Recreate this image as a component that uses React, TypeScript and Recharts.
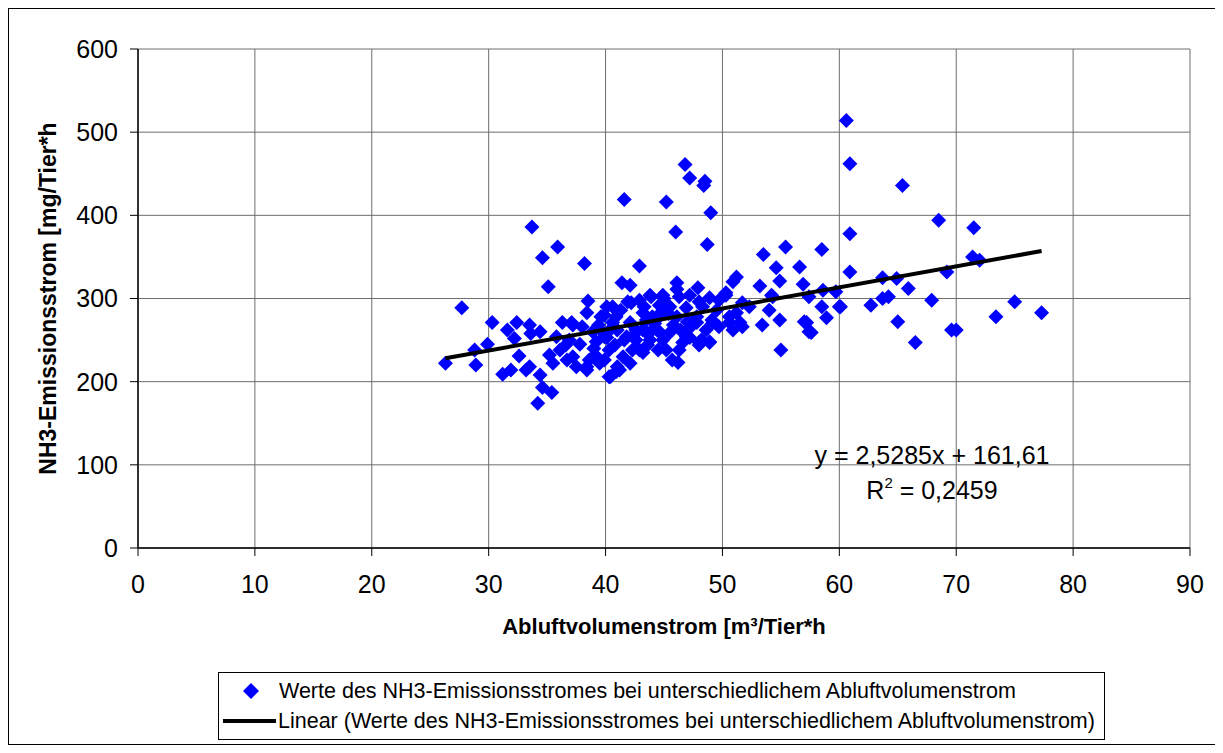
import {
  ScatterChart,
  Scatter,
  XAxis,
  YAxis,
  CartesianGrid,
} from "recharts";

// Abluftvolumenstrom [m³/Tier*h] per measurement
const flow = [
  26.3, 27.7, 28.8, 28.9, 29.9, 30.3, 31.2, 31.9, 32.4, 32.6, 31.6, 33.5, 33.2, 33.5, 33.7, 34.2,
  34.4, 34.4, 34.6, 34.6, 35.1, 35.4, 35.9, 36.3, 37.2, 36.7, 38.2, 38.4, 38.5, 39.7, 39.9, 40.6,
  40.9, 40.3, 41.4, 41.6, 42.1, 42.9, 45.2, 46.0, 46.8, 47.2, 48.5, 48.4, 49.0, 48.7, 46.1, 46.1,
  46.2, 50.9, 51.7, 51.2, 52.3, 53.2, 53.4, 53.5, 54.3, 54.6, 54.9, 54.9, 55.0, 55.4, 56.6, 56.9,
  57.2, 57.6, 58.5, 58.9, 58.6, 60.0, 60.6, 60.9, 65.4, 68.5, 71.5, 60.9, 71.4, 72.0, 60.9, 69.2,
  63.7, 64.9, 65.9, 59.7, 63.7, 64.2, 67.9, 62.7, 60.1, 65.0, 66.5, 69.6, 70.0, 73.4, 75.0, 77.3,
  38.4, 40.9, 42.2, 42.9, 43.8, 43.2, 44.0, 37.1, 38.0, 38.9, 35.8, 40.1, 41.0, 41.8, 42.6, 43.5,
  44.4, 36.1, 37.2, 37.5, 38.6, 38.4, 39.5, 40.3, 41.5, 41.2, 42.3, 43.2, 42.1, 35.5, 47.9, 43.9,
  44.9, 46.3, 47.2, 48.9, 50.3, 49.7, 43.3, 44.6, 45.5, 46.9, 48.3, 49.5, 51.2, 51.7, 43.5, 44.6,
  46.1, 47.8, 49.1, 50.6, 51.5, 44.0, 45.5, 46.9, 48.6, 49.7, 43.8, 44.9, 46.6, 48.0, 48.9, 45.2,
  45.7, 42.9, 50.9, 50.3, 54.2, 54.0, 57.4, 58.5, 50.6, 57.0, 57.4, 40.1, 41.9, 39.6, 40.6, 42.1,
  43.2, 44.6, 47.2, 47.8, 49.2, 39.9, 41.6, 44.5, 46.3, 48.0, 48.9, 39.9, 41.0, 40.4, 48.2, 45.0,
  36.9, 37.8, 39.0, 39.2, 42.6, 45.8, 47.3, 48.0, 32.2, 33.6, 36.6, 35.2, 39.4, 40.8, 42.4, 44.2,
  45.4, 47.0, 41.3, 43.6, 46.4, 39.1, 40.5, 44.8,
];

// NH3-Emissionsstrom [mg/Tier*h] per measurement
const emission = [
  222, 289, 238, 220, 245, 271, 209, 214, 271, 231, 262, 268, 214, 218, 386, 174,
  208, 260, 349, 193, 314, 187, 362, 271, 268, 226, 342, 218, 297, 260, 280, 290,
  212, 206, 319, 419, 316, 339, 416, 380, 461, 445, 441, 436, 403, 365, 319, 311,
  223, 262, 266, 326, 290, 315, 268, 353, 302, 337, 321, 274, 238, 362, 338, 317,
  271, 259, 359, 277, 310, 290, 514, 462, 436, 394, 385, 378, 350, 346, 332, 332,
  325, 324, 312, 308, 300, 302, 298, 292, 290, 272, 247, 262, 262, 278, 296, 283,
  283, 278, 295, 298, 304, 283, 278, 271, 266, 260, 254, 253, 262, 254, 250, 259,
  262, 238, 230, 218, 226, 214, 222, 238, 230, 214, 238, 235, 222, 222, 313, 302,
  304, 302, 304, 301, 307, 298, 290, 292, 290, 289, 290, 286, 283, 295, 274, 278,
  278, 278, 274, 271, 271, 262, 259, 254, 262, 266, 250, 250, 247, 244, 248, 238,
  226, 238, 320, 304, 304, 286, 302, 290, 278, 272, 260, 290, 296, 278, 271, 271,
  262, 260, 253, 271, 271, 254, 250, 238, 238, 247, 247, 226, 218, 206, 250, 300,
  250, 245, 240, 248, 262, 268, 266, 296, 252, 258, 244, 232, 268, 244, 256, 270,
  282, 272, 286, 244, 262, 232, 264, 284,
];

// linear trend y = 2,5285x + 161,61, read at both ends of the data
const trendX = [26.3, 77.3];
const trendY = [228.1, 357.1];

const xTicks = [0, 10, 20, 30, 40, 50, 60, 70, 80, 90];
const yTicks = [0, 100, 200, 300, 400, 500, 600];

const SERIES_NAME =
  "Werte des NH3-Emissionsstromes bei unterschiedlichem Abluftvolumenstrom";
const TREND_NAME = "Linear (" + SERIES_NAME + ")";

const BLUE = "#0000ff";
const FONT = "'Liberation Sans', Arial, sans-serif";

const points = flow.map((x, i) => ({ x, y: emission[i] }));
const trend = trendX.map((x, i) => ({ x, y: trendY[i] }));

function Diamond(props: any) {
  const { cx, cy } = props;
  const r = 7.5;
  return (
    <polygon
      points={`${cx},${cy - r} ${cx + r},${cy} ${cx},${cy + r} ${cx - r},${cy}`}
      fill={BLUE}
    />
  );
}

function LegendBox() {
  return (
    <div
      style={{
        position: "absolute",
        left: 209,
        top: 663,
        width: 887,
        height: 68,
        border: "1px solid #000",
        boxSizing: "border-box",
        fontFamily: FONT,
        fontSize: 21.5,
        color: "#000",
        background: "#fff",
        whiteSpace: "nowrap",
      }}
    >
      <div style={{ display: "flex", alignItems: "center", height: 30, marginTop: 3 }}>
        <svg width={60} height={30}>
          <polygon points="32,7 40,15 32,23 24,15" fill={BLUE} />
        </svg>
        <span>{SERIES_NAME}</span>
      </div>
      <div style={{ display: "flex", alignItems: "center", height: 30 }}>
        <svg width={59} height={30}>
          <line x1={4} y1={15} x2={57} y2={15} stroke="#000" strokeWidth={4} />
        </svg>
        <span>{TREND_NAME}</span>
      </div>
    </div>
  );
}

export default function App() {
  return (
    <div
      style={{
        position: "relative",
        width: 1212,
        height: 737,
        border: "1px solid #000",
        boxSizing: "border-box",
        background: "#fff",
      }}
    >
      <ScatterChart
        width={1210}
        height={735}
        margin={{ top: 40, right: 29, left: 0, bottom: 0 }}
      >
        <CartesianGrid stroke="#6e6e6e" strokeWidth={1} />
        <XAxis
          type="number"
          dataKey="x"
          domain={[0, 90]}
          ticks={xTicks}
          interval={0}
          height={196}
          tickSize={8}
          tickMargin={19}
          axisLine={{ stroke: "#000", strokeWidth: 1.5 }}
          tickLine={{ stroke: "#000" }}
          tick={{ fill: "#000", fontSize: 25, fontFamily: FONT }}
          label={{
            value: "Abluftvolumenstrom [m³/Tier*h",
            position: "insideTop",
            offset: 70,
            fill: "#000",
            fontSize: 22,
            fontWeight: "bold",
            fontFamily: FONT,
          }}
        />
        <YAxis
          type="number"
          dataKey="y"
          domain={[0, 600]}
          ticks={yTicks}
          interval={0}
          width={129}
          tickSize={8}
          tickMargin={12}
          axisLine={{ stroke: "#333", strokeWidth: 2 }}
          tickLine={{ stroke: "#000" }}
          tick={{ fill: "#000", fontSize: 25, fontFamily: FONT }}
          label={{
            content: (p: any) => {
              const vb = p.viewBox;
              const cx = vb.x + 39;
              const cy = vb.y + vb.height / 2;
              return (
                <text
                  x={cx}
                  y={cy}
                  textAnchor="middle"
                  dominantBaseline="central"
                  transform={`rotate(-90, ${cx}, ${cy})`}
                  fontSize={23}
                  fontWeight="bold"
                  fontFamily={FONT}
                  fill="#000"
                >
                  NH3-Emissionsstrom [mg/Tier*h
                </text>
              );
            },
          }}
        />
        <Scatter
          name={SERIES_NAME}
          data={points}
          fill={BLUE}
          shape={Diamond}
          isAnimationActive={false}
        />
        <Scatter
          name={TREND_NAME}
          data={trend}
          line={{ stroke: "#000", strokeWidth: 4 }}
          shape={() => <g />}
          fill="#000"
          isAnimationActive={false}
        />
      </ScatterChart>
      <LegendBox />
      <div
        style={{
          position: "absolute",
          left: 773,
          top: 429,
          width: 300,
          textAlign: "center",
          fontFamily: FONT,
          fontSize: 25,
          lineHeight: "35px",
          color: "#000",
        }}
      >
        <div style={{ height: 35 }}>y = 2,5285x + 161,61</div>
        <div style={{ height: 35 }}>
          R
          <span style={{ fontSize: 15, position: "relative", top: -11 }}>2</span>
          {" "}= 0,2459
        </div>
      </div>
    </div>
  );
}
